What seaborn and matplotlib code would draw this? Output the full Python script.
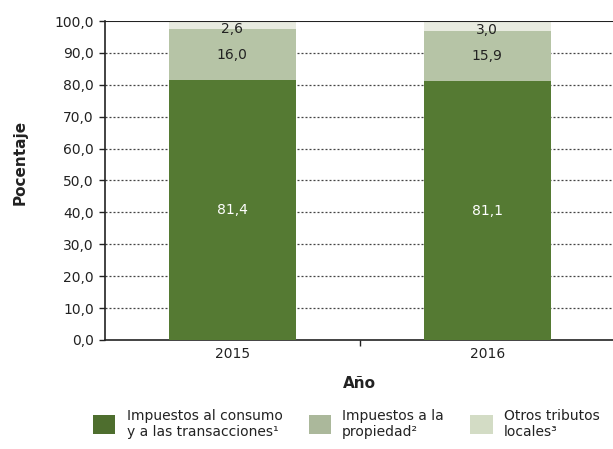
import matplotlib
matplotlib.use("Agg")
import matplotlib.pyplot as plt
import seaborn as sns
import pandas as pd
import numpy as np
from matplotlib.patches import Patch

years = ["2015", "2016"]
consumo = [81.4, 81.1]
propiedad = [16.0, 15.9]
otros = [2.6, 3.0]
series_names = ["Impuestos al consumo\ny a las transacciones¹",
                "Impuestos a la\npropiedad²",
                "Otros tributos\nlocales³"]
bar_colors = ["#557a33", "#b6c4a6", "#e8ebe0"]
legend_colors = ["#4e6e2e", "#abb89b", "#d3dcc5"]
yticks = [0, 10, 20, 30, 40, 50, 60, 70, 80, 90, 100]

sns.set_theme(style="white")
plt.rcParams['font.family'] = ['DejaVu Sans']

df = pd.DataFrame({"Año": years, "c": consumo, "p": propiedad, "o": otros})
df["cp"] = df["c"] + df["p"]
df["cpo"] = df["cp"] + df["o"]

fig = plt.figure(figsize=(6.13, 4.49), dpi=100)
ax = fig.add_axes([0.171, 0.243, 0.832, 0.71])

for col, color in zip(["cpo", "cp", "c"], bar_colors[::-1]):
    sns.barplot(data=df, x="Año", y=col, color=color, width=0.5,
                saturation=1, ax=ax, zorder=3, errorbar=None,
                linewidth=0, edgecolor="none")

ax.set_ylim(0, 100)
ax.set_xlim(-0.5, 1.5)
ax.set_yticks(yticks)
ax.set_yticklabels([f"{v:.1f}".replace(".", ",") for v in yticks], fontsize=10, color="#222222")
ax.tick_params(axis="y", length=4, width=1, color="#222222", direction="out", left=True, pad=4)
ax.set_xticks([0, 1])
ax.set_xticklabels(years, fontsize=10, color="#222222")
ax.tick_params(axis="x", length=0, pad=5)
ax.set_xticks([0.5], minor=True)
ax.tick_params(axis="x", which="minor", length=4, width=1, color="#222222", direction="out", bottom=True)

for v in yticks[1:-1]:
    ax.axhline(v, color="#444444", linestyle=(0, (1.6, 1.6)), linewidth=0.9, zorder=1)
ax.axhline(100, color="#222222", linewidth=1.5, zorder=4)

for s in ["top", "right"]:
    ax.spines[s].set_visible(False)
for s in ["left", "bottom"]:
    ax.spines[s].set_color("#222222")
    ax.spines[s].set_linewidth(1.2)

bottoms = [np.zeros(2), np.array(consumo), np.array(consumo) + np.array(propiedad)]
vals = [consumo, propiedad, otros]
txtcolors = ["white", "#222222", "#222222"]
for b, v, tc in zip(bottoms, vals, txtcolors):
    for i in range(len(years)):
        ax.text(i, b[i] + v[i] / 2 - (1.3 if v[i] < 5 else 0),
                f"{v[i]:.1f}".replace(".", ","),
                ha="center", va="center", color=tc, fontsize=10, zorder=5)

ax.set_ylabel("Pocentaje", fontsize=11, fontweight="bold", color="#222222")
ax.yaxis.set_label_coords(-0.152, 0.558)
ax.set_xlabel("Año", fontsize=11, fontweight="bold", color="#222222")
ax.xaxis.set_label_coords(0.5, -0.113)

handles = [Patch(facecolor=c, edgecolor="none") for c in legend_colors]
fig.legend(handles, series_names, loc="lower center", bbox_to_anchor=(0.565, -0.005),
           ncol=3, frameon=False, fontsize=10, handlelength=1.6, handleheight=1.8,
           columnspacing=1.9, handletextpad=0.8, labelcolor="#222222")

fig.savefig("out.png", dpi=100)
